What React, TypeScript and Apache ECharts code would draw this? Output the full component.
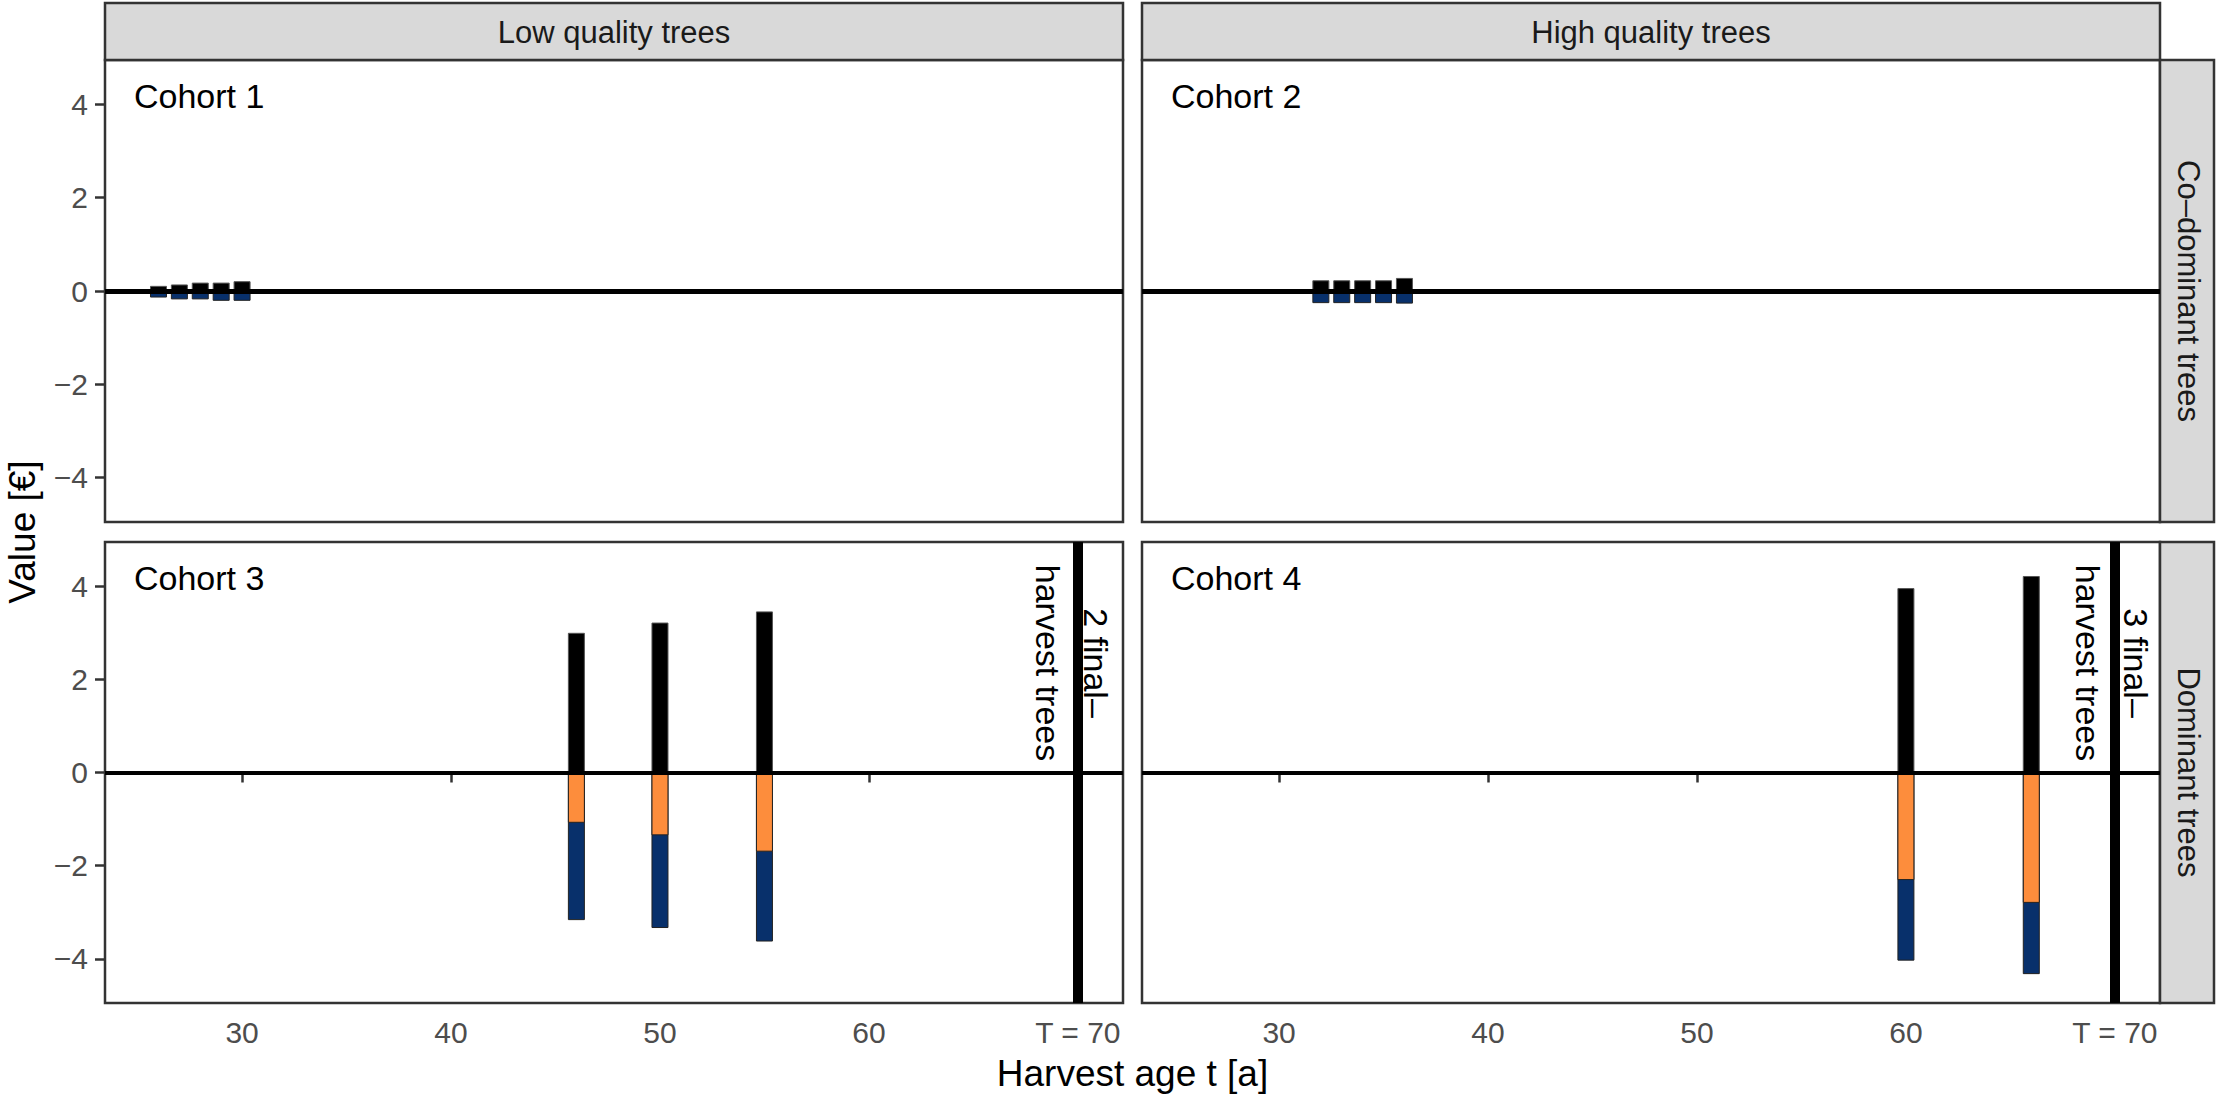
import React, { useEffect, useRef } from "react";
import * as echarts from "echarts";

const W = 2216;
const H = 1095;

// ---- data ----
const cohort1Age = [26, 27, 28, 29, 30];
const cohort1Revenue = [0.11, 0.14, 0.18, 0.18, 0.21];
const cohort1CostOrange = [-0.02, -0.02, -0.02, -0.03, -0.03];
const cohort1CostBlue = [-0.12, -0.16, -0.16, -0.18, -0.18];

const cohort2Age = [32, 33, 34, 35, 36];
const cohort2Revenue = [0.23, 0.23, 0.23, 0.23, 0.28];
const cohort2CostOrange = [-0.02, -0.02, -0.02, -0.02, -0.02];
const cohort2CostBlue = [-0.24, -0.24, -0.24, -0.24, -0.25];

const cohort3Age = [46, 50, 55];
const cohort3Revenue = [3.0, 3.22, 3.46];
const cohort3CostOrange = [-1.08, -1.35, -1.7];
const cohort3CostBlue = [-2.09, -1.99, -1.93];

const cohort4Age = [60, 66];
const cohort4Revenue = [3.96, 4.22];
const cohort4CostOrange = [-2.31, -2.8];
const cohort4CostBlue = [-1.73, -1.53];

const finalHarvestAge = 70;
const xTicks = [30, 40, 50, 60, 70];
const yTicks = [-4, -2, 0, 2, 4];
const xMin = 23.44;
const xMax = 72.16;
const yMin = -4.95;
const yMax = 4.95;

const columnTitles = ["Low quality trees", "High quality trees"];
const rowTitles = ["Co\u2013dominant trees", "Dominant trees"];
const cohortLabels = ["Cohort 1", "Cohort 2", "Cohort 3", "Cohort 4"];
const finalLabels = ["2 final\u2013\nharvest trees", "3 final\u2013\nharvest trees"];
const xTitle = "Harvest age t [a]";
const yTitle = "Value [\u20ac]";

// ---- styling / layout ----
const FONT = "Liberation Sans, Arial, Helvetica, sans-serif";
const BORDER = "#333333";
const STRIP = "#d9d9d9";
const ORANGE = "#fd8d3c";
const NAVY = "#08306b";
const colLeft = [105, 1142];
const colWidth = 1018;
const rowTop = [60, 542];
const rowHeight = [462, 461];

const panels = [
  { age: cohort1Age, rev: cohort1Revenue, orange: cohort1CostOrange, blue: cohort1CostBlue, row: 0, col: 0, zeroW: 5 },
  { age: cohort2Age, rev: cohort2Revenue, orange: cohort2CostOrange, blue: cohort2CostBlue, row: 0, col: 1, zeroW: 5 },
  { age: cohort3Age, rev: cohort3Revenue, orange: cohort3CostOrange, blue: cohort3CostBlue, row: 1, col: 0, zeroW: 4 },
  { age: cohort4Age, rev: cohort4Revenue, orange: cohort4CostOrange, blue: cohort4CostBlue, row: 1, col: 1, zeroW: 4 },
];

function buildOption() {
  const grid: any[] = [];
  const xAxis: any[] = [];
  const yAxis: any[] = [];
  const series: any[] = [];

  panels.forEach((p, i) => {
    grid.push({
      left: colLeft[p.col],
      top: rowTop[p.row],
      width: colWidth,
      height: rowHeight[p.row],
      show: true,
      borderColor: BORDER,
      borderWidth: 2.5,
      backgroundColor: "#ffffff",
      containLabel: false,
    });
    const showX = p.row === 1;
    const showY = p.col === 0;
    xAxis.push({
      type: "value",
      gridIndex: i,
      min: xMin,
      max: xMax,
      axisLine: { show: false },
      splitLine: { show: false },
      axisTick: {
        show: showX,
        customValues: xTicks,
        length: 10,
        lineStyle: { color: BORDER, width: 2.5 },
      },
      axisLabel: {
        show: showX,
        customValues: xTicks,
        margin: 14,
        fontSize: 30,
        fontFamily: FONT,
        color: "#4d4d4d",
        formatter: (v: number) => (v === finalHarvestAge ? "T = " + v : String(v)),
      },
    });
    yAxis.push({
      type: "value",
      gridIndex: i,
      min: yMin,
      max: yMax,
      axisLine: { show: false },
      splitLine: { show: false },
      axisTick: {
        show: showY,
        customValues: yTicks,
        length: 10,
        lineStyle: { color: BORDER, width: 2.5 },
      },
      axisLabel: {
        show: showY,
        customValues: yTicks,
        margin: 17,
        fontSize: 30,
        fontFamily: FONT,
        color: "#4d4d4d",
        formatter: (v: number) => (v < 0 ? "\u2212" + Math.abs(v) : String(v)),
      },
    });

    const lines: any[] = [
      { yAxis: 0, lineStyle: { color: "#000", width: p.zeroW, type: "solid" } },
    ];
    if (p.row === 1) {
      lines.push({ xAxis: finalHarvestAge, lineStyle: { color: "#000", width: 10, type: "solid" } });
    }

    const common = {
      type: "bar",
      xAxisIndex: i,
      yAxisIndex: i,
      barWidth: 17,
      barGap: "-100%",
      emphasis: { disabled: true },
      silent: true,
    };
    // positive part
    series.push({
      ...common,
      name: "revenue" + i,
      z: 2,
      data: p.age.map((a, k) => [a, p.rev[k]]),
      itemStyle: { color: "#000000", borderColor: "#555555", borderWidth: 1 },
      markLine: {
        silent: true,
        symbol: ["none", "none"],
        label: { show: false },
        lineStyle: { type: "solid" },
        z: 10,
        data: lines,
      },
    });
    // lower cost block: drawn from 0 to the cumulative cost, orange drawn over its upper part
    series.push({
      ...common,
      name: "costB" + i,
      z: 2,
      data: p.age.map((a, k) => [a, p.orange[k] + p.blue[k]]),
      itemStyle: { color: NAVY, borderColor: "#222222", borderWidth: 1 },
    });
    series.push({
      ...common,
      name: "costA" + i,
      z: 3,
      data: p.age.map((a, k) => [a, p.orange[k]]),
      itemStyle: { color: ORANGE, borderColor: "#222222", borderWidth: 1 },
    });
  });

  const graphic: any[] = [];
  columnTitles.forEach((t, c) => {
    graphic.push({
      type: "rect",
      shape: { x: colLeft[c], y: 3, width: colWidth, height: 57 },
      style: { fill: STRIP, stroke: BORDER, lineWidth: 2.5 },
      z: 1,
    });
    graphic.push({
      type: "text",
      x: colLeft[c] + colWidth / 2,
      y: 32,
      style: {
        text: t,
        fontSize: 31,
        fontFamily: FONT,
        fill: "#1a1a1a",
        align: "center",
        verticalAlign: "middle",
      },
      z: 2,
    });
  });
  rowTitles.forEach((t, r) => {
    graphic.push({
      type: "rect",
      shape: { x: 2160, y: rowTop[r], width: 54, height: rowHeight[r] },
      style: { fill: STRIP, stroke: BORDER, lineWidth: 2.5 },
      z: 1,
    });
    graphic.push({
      type: "text",
      x: 2188,
      y: rowTop[r] + rowHeight[r] / 2,
      rotation: -Math.PI / 2,
      style: {
        text: t,
        fontSize: 31,
        fontFamily: FONT,
        fill: "#1a1a1a",
        align: "center",
        verticalAlign: "middle",
      },
      z: 2,
    });
  });
  panels.forEach((p, i) => {
    graphic.push({
      type: "text",
      x: colLeft[p.col] + 29,
      y: p.row === 0 ? 96 : 578,
      style: {
        text: cohortLabels[i],
        fontSize: 34,
        fontFamily: FONT,
        fill: "#000000",
        align: "left",
        verticalAlign: "middle",
      },
      z: 20,
    });
  });
  const finalPos = [
    { x: 1072, y: 663 },
    { x: 2112, y: 663 },
  ];
  finalLabels.forEach((t, c) => {
    graphic.push({
      type: "text",
      x: finalPos[c].x,
      y: finalPos[c].y,
      rotation: -Math.PI / 2,
      style: {
        text: t,
        fontSize: 34,
        lineHeight: 48,
        fontFamily: FONT,
        fill: "#000000",
        align: "center",
        verticalAlign: "middle",
      },
      z: 20,
    });
  });
  graphic.push({
    type: "text",
    x: (colLeft[0] + colLeft[1] + colWidth) / 2,
    y: 1073,
    style: {
      text: xTitle,
      fontSize: 37,
      fontFamily: FONT,
      fill: "#000000",
      align: "center",
      verticalAlign: "middle",
    },
  });
  graphic.push({
    type: "text",
    x: 22,
    y: 532,
    rotation: Math.PI / 2,
    style: {
      text: yTitle,
      fontSize: 37,
      fontFamily: FONT,
      fill: "#000000",
      align: "center",
      verticalAlign: "middle",
    },
  });

  return {
    animation: false,
    backgroundColor: "#ffffff",
    grid,
    xAxis,
    yAxis,
    series,
    graphic,
  };
}

export default function App() {
  const ref = useRef<HTMLDivElement>(null);
  useEffect(() => {
    document.body.style.margin = "0";
    const chart = echarts.init(ref.current!, null, { renderer: "svg", width: W, height: H });
    chart.setOption(buildOption() as any);
    return () => chart.dispose();
  }, []);
  return <div ref={ref} style={{ width: W, height: H }} />;
}
